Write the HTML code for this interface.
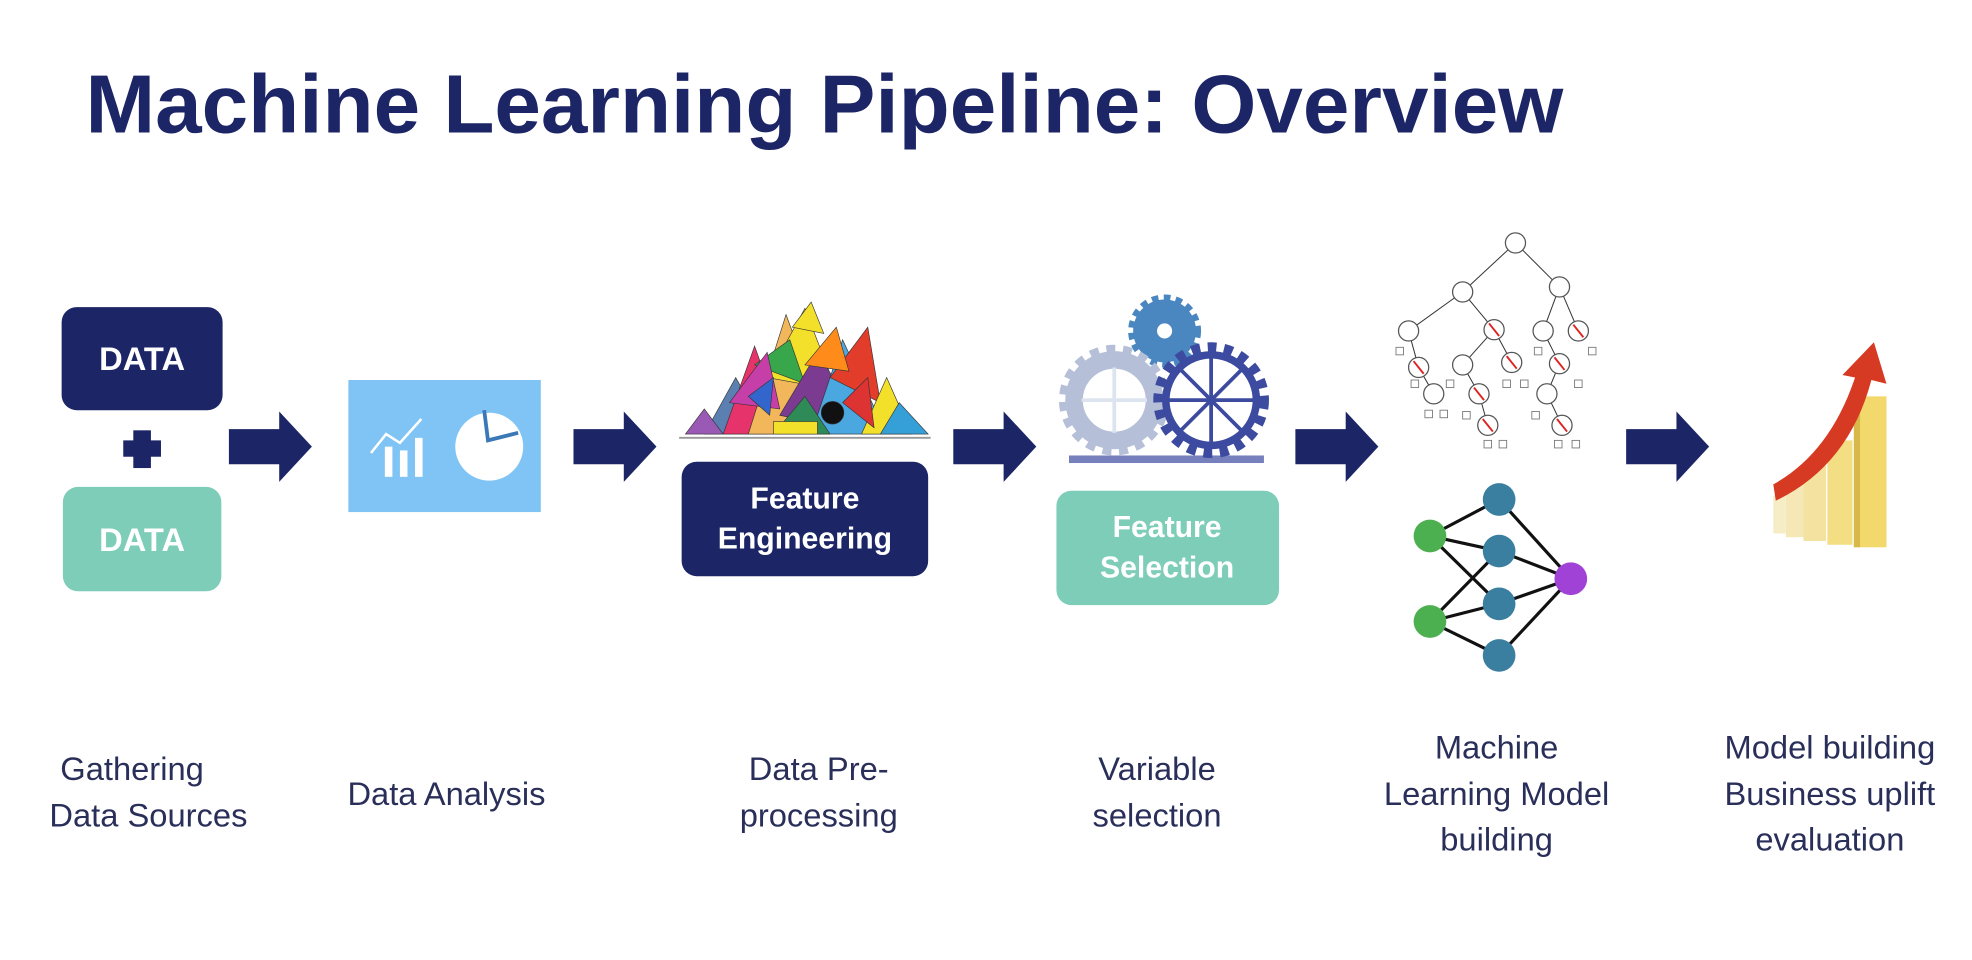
<!DOCTYPE html>
<html><head><meta charset="utf-8"><style>
html,body{margin:0;padding:0;background:#fff;}
svg{display:block;}
text{font-family:"Liberation Sans",Arial,sans-serif;}
</style></head><body>
<svg width="1972" height="960" viewBox="0 0 1568 763" xmlns="http://www.w3.org/2000/svg">
<rect width="1568" height="763" fill="#fff"/>
<defs>
<g id="arr"><polygon points="0,-14 40,-14 40,-28 66,0 40,28 40,14 0,14" fill="#1c2566"/></g>
</defs>
<text x="68" y="105" font-size="66" font-weight="bold" fill="#1c2566" textLength="1175" lengthAdjust="spacingAndGlyphs">Machine Learning Pipeline: Overview</text>

<!-- DATA boxes -->
<rect x="49" y="244" width="128" height="82" rx="12" fill="#1c2566"/>
<text x="113" y="294" font-size="26" font-weight="bold" fill="#fff" text-anchor="middle">DATA</text>
<rect x="106" y="342" width="14" height="30" fill="#1c2566"/>
<rect x="98" y="350" width="30" height="13" fill="#1c2566"/>
<rect x="50" y="387" width="126" height="83" rx="12" fill="#7dcdb8"/>
<text x="113" y="438" font-size="26" font-weight="bold" fill="#fff" text-anchor="middle">DATA</text>

<use href="#arr" x="182" y="355"/>
<use href="#arr" x="456" y="355"/>
<use href="#arr" x="758" y="355"/>
<use href="#arr" x="1030" y="355"/>
<use href="#arr" x="1293" y="355"/>

<!-- Data analysis icon -->
<rect x="277" y="302" width="153" height="105" fill="#7fc4f4"/>
<g stroke="#fff" fill="#fff">
<polyline points="295,360 307,345 318,352 335,333" fill="none" stroke-width="2"/>
<rect x="306" y="355" width="6" height="24" stroke="none"/>
<rect x="318" y="358" width="6" height="21" stroke="none"/>
<rect x="330" y="348" width="6" height="31" stroke="none"/>
</g>
<circle cx="389" cy="355" r="27" fill="#fff"/>
<polyline points="385,326 388,350 412,344" fill="none" stroke="#3a78b8" stroke-width="3"/>

<!-- Pile -->
<g stroke="#333" stroke-width="0.5">
<polygon points="560,345 585,300 610,345" fill="#5a7fb0"/>
<polygon points="575,345 600,275 625,345" fill="#e6336b"/>
<polygon points="595,345 625,250 660,345" fill="#f2b65b"/>
<polygon points="610,300 640,245 665,310" fill="#f3e02a"/>
<polygon points="600,290 628,270 640,305" fill="#38a64b"/>
<polygon points="620,330 650,280 690,345" fill="#7a3b91"/>
<polygon points="645,345 670,270 705,345" fill="#4aa7e0"/>
<polygon points="660,300 690,260 700,320" fill="#e23c2a"/>
<polygon points="580,320 610,280 620,325" fill="#c63fa9"/>
<polygon points="640,290 665,260 675,295" fill="#ff8c1a"/>
<polygon points="685,345 705,300 725,345" fill="#f3e02a"/>
<polygon points="700,345 715,320 738,345" fill="#35a0d8"/>
<polygon points="545,345 560,325 575,345" fill="#9b59b6"/>
<polygon points="615,345 640,315 660,345" fill="#2e8b57"/>
<polygon points="630,260 645,240 655,265" fill="#f3e02a"/>
<polygon points="670,320 690,300 695,340" fill="#d33"/>
<polygon points="595,315 615,300 612,330" fill="#3366cc"/>
<rect x="615" y="335" width="35" height="10" fill="#f3e02a"/>
<circle cx="662" cy="328" r="9" fill="#111"/>
</g>
<line x1="540" y1="348" x2="740" y2="348" stroke="#999" stroke-width="1.5"/>
<rect x="542" y="367" width="196" height="91" rx="12" fill="#1c2566"/>
<text x="640" y="404" font-size="24" font-weight="bold" fill="#fff" text-anchor="middle">Feature</text>
<text x="640" y="436" font-size="24" font-weight="bold" fill="#fff" text-anchor="middle">Engineering</text>

<!-- Gears -->
<g>
<circle cx="926" cy="263" r="25" fill="#4a86c0" stroke="#4a86c0" stroke-width="8" stroke-dasharray="5 4"/>
<circle cx="926" cy="263" r="6" fill="#fff"/>
<circle cx="886" cy="318" r="32" fill="#fff" stroke="#b5bfd8" stroke-width="14"/>
<circle cx="886" cy="318" r="40" fill="none" stroke="#b5bfd8" stroke-width="8" stroke-dasharray="7 6"/>
<circle cx="963" cy="318" r="36" fill="none" stroke="#3c4aa0" stroke-width="6"/>
<circle cx="963" cy="318" r="42" fill="none" stroke="#3c4aa0" stroke-width="8" stroke-dasharray="7 6"/>
<g stroke="#3c4aa0" stroke-width="3">
<line x1="927" y1="318" x2="999" y2="318"/><line x1="963" y1="282" x2="963" y2="354"/>
<line x1="938" y1="293" x2="988" y2="343"/><line x1="988" y1="293" x2="938" y2="343"/>
</g>
<g stroke="#dde3ef" stroke-width="3">
<line x1="860" y1="318" x2="912" y2="318"/><line x1="886" y1="292" x2="886" y2="344"/>
</g>
<rect x="850" y="362" width="155" height="6" fill="#3c4aa0" opacity="0.7"/>
</g>
<rect x="840" y="390" width="177" height="91" rx="12" fill="#7dcdb8"/>
<text x="928" y="427" font-size="24" font-weight="bold" fill="#fff" text-anchor="middle">Feature</text>
<text x="928" y="459" font-size="24" font-weight="bold" fill="#fff" text-anchor="middle">Selection</text>

<!-- Tree -->
<g stroke="#333" stroke-width="0.8" fill="none">
<line x1="1205" y1="193" x2="1163" y2="232"/><line x1="1205" y1="193" x2="1240" y2="228"/>
<line x1="1163" y1="232" x2="1120" y2="263"/><line x1="1163" y1="232" x2="1188" y2="262"/>
<line x1="1240" y1="228" x2="1227" y2="263"/><line x1="1240" y1="228" x2="1255" y2="263"/>
<line x1="1120" y1="263" x2="1128" y2="292"/><line x1="1128" y1="292" x2="1140" y2="313"/>
<line x1="1188" y1="262" x2="1163" y2="290"/><line x1="1188" y1="262" x2="1202" y2="288"/>
<line x1="1163" y1="290" x2="1176" y2="313"/><line x1="1176" y1="313" x2="1183" y2="338"/>
<line x1="1227" y1="263" x2="1240" y2="289"/><line x1="1240" y1="289" x2="1230" y2="313"/><line x1="1230" y1="313" x2="1242" y2="338"/>
</g>
<g fill="#fff" stroke="#555" stroke-width="1">
<circle cx="1205" cy="193" r="8"/><circle cx="1163" cy="232" r="8"/><circle cx="1240" cy="228" r="8"/>
<circle cx="1120" cy="263" r="8"/><circle cx="1188" cy="262" r="8"/><circle cx="1227" cy="263" r="8"/><circle cx="1255" cy="263" r="8"/>
<circle cx="1128" cy="292" r="8"/><circle cx="1163" cy="290" r="8"/><circle cx="1202" cy="288" r="8"/><circle cx="1240" cy="289" r="8"/>
<circle cx="1140" cy="313" r="8"/><circle cx="1176" cy="313" r="8"/><circle cx="1230" cy="313" r="8"/>
<circle cx="1183" cy="338" r="8"/><circle cx="1242" cy="338" r="8"/>
</g>
<g stroke="#d22" stroke-width="1.5">
<line x1="1124" y1="287" x2="1132" y2="297"/><line x1="1184" y1="257" x2="1192" y2="267"/><line x1="1198" y1="283" x2="1206" y2="293"/>
<line x1="1172" y1="308" x2="1180" y2="318"/><line x1="1179" y1="333" x2="1187" y2="343"/><line x1="1238" y1="333" x2="1246" y2="343"/>
<line x1="1251" y1="258" x2="1259" y2="268"/><line x1="1236" y1="284" x2="1244" y2="294"/>
</g>
<g fill="#fff" stroke="#777" stroke-width="0.7">
<rect x="1110" y="276" width="6" height="6"/><rect x="1122" y="302" width="6" height="6"/><rect x="1133" y="326" width="6" height="6"/><rect x="1145" y="326" width="6" height="6"/>
<rect x="1150" y="302" width="6" height="6"/><rect x="1163" y="327" width="6" height="6"/><rect x="1195" y="302" width="6" height="6"/><rect x="1209" y="302" width="6" height="6"/>
<rect x="1220" y="276" width="6" height="6"/><rect x="1263" y="276" width="6" height="6"/><rect x="1252" y="302" width="6" height="6"/>
<rect x="1218" y="327" width="6" height="6"/><rect x="1180" y="350" width="6" height="6"/><rect x="1192" y="350" width="6" height="6"/><rect x="1236" y="350" width="6" height="6"/><rect x="1250" y="350" width="6" height="6"/>
</g>

<!-- NN -->
<g stroke="#111" stroke-width="2.5">
<line x1="1137" y1="426" x2="1192" y2="397"/><line x1="1137" y1="426" x2="1192" y2="438"/><line x1="1137" y1="426" x2="1192" y2="480"/>
<line x1="1137" y1="494" x2="1192" y2="438"/><line x1="1137" y1="494" x2="1192" y2="480"/><line x1="1137" y1="494" x2="1192" y2="521"/>
<line x1="1192" y1="397" x2="1249" y2="460"/><line x1="1192" y1="438" x2="1249" y2="460"/><line x1="1192" y1="480" x2="1249" y2="460"/><line x1="1192" y1="521" x2="1249" y2="460"/>
</g>
<g fill="#3a7fa0">
<circle cx="1192" cy="397" r="13"/><circle cx="1192" cy="438" r="13"/><circle cx="1192" cy="480" r="13"/><circle cx="1192" cy="521" r="13"/>
</g>
<circle cx="1137" cy="426" r="13" fill="#4caf50"/><circle cx="1137" cy="494" r="13" fill="#4caf50"/>
<circle cx="1249" cy="460" r="13" fill="#a142d6"/>

<!-- Chart -->
<g>
<rect x="1478" y="315" width="22" height="120" fill="#f3d96b"/><rect x="1474" y="318" width="5" height="117" fill="#d9b84a"/>
<rect x="1453" y="350" width="20" height="83" fill="#f3de84"/>
<rect x="1434" y="370" width="18" height="60" fill="#f4e3a0"/>
<rect x="1420" y="385" width="14" height="42" fill="#f5e8b6"/>
<rect x="1410" y="394" width="10" height="30" fill="#f6ecc5"/>
<path d="M1410,385 Q1455,360 1475,300 L1465,298 L1490,272 L1500,305 L1488,302 Q1470,370 1412,398 Z" fill="#d63a22"/>
</g>

<!-- Labels -->
<g font-size="26" fill="#2a2f5a" text-anchor="middle">
<text x="105" y="620">Gathering</text><text x="118" y="657">Data Sources</text>
<text x="355" y="640">Data Analysis</text>
<text x="651" y="620">Data Pre-</text><text x="651" y="657">processing</text>
<text x="920" y="620">Variable</text><text x="920" y="657">selection</text>
<text x="1190" y="603">Machine</text><text x="1190" y="640">Learning Model</text><text x="1190" y="676">building</text>
<text x="1455" y="603">Model building</text><text x="1455" y="640">Business uplift</text><text x="1455" y="676">evaluation</text>
</g>
</svg>
</body></html>
